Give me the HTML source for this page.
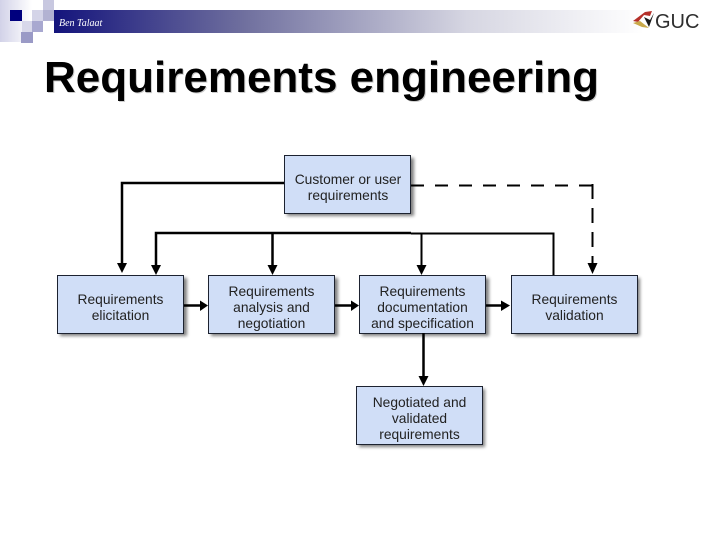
<!DOCTYPE html>
<html><head><meta charset="utf-8"><style>
html,body{margin:0;padding:0;background:#fff}
body{width:720px;height:540px;overflow:hidden;position:relative}
svg{position:absolute;left:0;top:0}
text{font-family:"Liberation Sans",sans-serif}
.l{font-size:13.8px;fill:#222;text-anchor:middle}
</style></head><body>
<svg width="720" height="540" viewBox="0 0 720 540" xmlns="http://www.w3.org/2000/svg">
<defs>
<linearGradient id="b" x1="0" x2="1" y1="0" y2="0"><stop offset="0" stop-color="#14147c"/><stop offset=".32" stop-color="#6f6f9e"/><stop offset=".7" stop-color="#d6d6e2"/><stop offset="1" stop-color="#fff"/></linearGradient>
<linearGradient id="s1" x1="0" x2="1" y1="0" y2="0"><stop offset="0" stop-color="#d2d2e8"/><stop offset="1" stop-color="#fff"/></linearGradient>
<filter id="bl" x="-10%" y="-10%" width="120%" height="130%"><feGaussianBlur stdDeviation="1.5"/></filter>
</defs>
<rect x="54" y="10" width="590" height="23" fill="url(#b)"/>
<rect x="0" y="0" width="32" height="42" fill="url(#s1)"/>
<rect x="10" y="10" width="12" height="11" fill="#00007e"/>
<rect x="43" y="0" width="11" height="10" fill="#c8c8e0"/>
<rect x="32" y="10" width="11" height="11" fill="#d4d4e8"/>
<rect x="43" y="10" width="11" height="11" fill="#b2b2d2"/>
<rect x="22" y="21" width="10" height="11" fill="#d8d8ea"/>
<rect x="32" y="21" width="11" height="11" fill="#a8a8d0"/>
<rect x="21" y="32" width="12" height="11" fill="#9a9ac6"/>
<text x="59" y="26" font-size="10" fill="#fff" style="font-family:'Liberation Serif',serif;font-style:italic">Ben Talaat</text>
<g>
<path d="M633 21L645 12L652 11L650 16L644 15L638 22Z" fill="#b5302a"/>
<path d="M633 23L640 21L649 28L642 27Z" fill="#c9a94a"/>
<path d="M644 17L649 27L654 13L650 20Z" fill="#1a1a1a"/>
<text x="655" y="28" font-size="20" fill="#2e2e2e">GUC</text>
</g>
<text x="44" y="92" font-size="44" font-weight="700" fill="#ccc" transform="translate(1,1)">Requirements engineering</text>
<text x="44" y="92" font-size="44" font-weight="700" fill="#000">Requirements engineering</text>

<g fill="#555" filter="url(#bl)" opacity=".75">
<rect x="287" y="158" width="127" height="58"/>
<rect x="60" y="278" width="127" height="58"/>
<rect x="211" y="278" width="127" height="58"/>
<rect x="362" y="278" width="127" height="58"/>
<rect x="515" y="278" width="125" height="58"/>
<rect x="359" y="389" width="126" height="58"/>
</g>
<g fill="#d0def7" stroke="#1c2230" stroke-width="1">
<rect x="284.500" y="155.500" width="126" height="58"/>
<rect x="57.500" y="275.500" width="126" height="58"/>
<rect x="208.500" y="275.500" width="126" height="58"/>
<rect x="359.500" y="275.500" width="126" height="58"/>
<rect x="511.500" y="275.500" width="126" height="58"/>
<rect x="356.500" y="386.500" width="126" height="58"/>
</g>

<g fill="none" stroke="#000" stroke-width="2.500">
<path d="M284 183H122V265"/>
<path d="M156 265V233H411"/>
<path d="M272.500 233V265"/>
<path d="M184 305.500H201"/>
<path d="M335 305.500H352"/>
<path d="M486 305.500H505"/>
<path d="M423.500 333V378"/>
</g>
<path d="M411 233.500H553.500V275" fill="none" stroke="#000" stroke-width="2"/>
<path d="M421.500 233V265" fill="none" stroke="#000" stroke-width="2"/>
<path d="M411 185.500H593" fill="none" stroke="#000" stroke-width="2" stroke-dasharray="13 11"/>
<path d="M592.500 184V264" fill="none" stroke="#000" stroke-width="2" stroke-dasharray="15 9"/>
<g fill="#000">
<path d="M117 263H127L122 273Z"/>
<path d="M151 265H161L156 275Z"/>
<path d="M267.500 265H277.500L272.500 275Z"/>
<path d="M416.500 265H426.500L421.500 275Z"/>
<path d="M587.500 263H597.500L592.500 274Z"/>
<path d="M200 300.500L208 305.500L200 311Z"/>
<path d="M351 300.500L359 305.500L351 311Z"/>
<path d="M501 300.500L510 305.500L501 311Z"/>
<path d="M418.500 376H428.500L423.500 386Z"/>
</g>

<text class="l" x="348" y="184">Customer or user</text>
<text class="l" x="348" y="200">requirements</text>
<text class="l" x="120.500" y="304">Requirements</text>
<text class="l" x="120.500" y="320">elicitation</text>
<text class="l" x="271.500" y="296">Requirements</text>
<text class="l" x="271.500" y="312">analysis and</text>
<text class="l" x="271.500" y="328">negotiation</text>
<text class="l" x="422.500" y="296">Requirements</text>
<text class="l" x="422.500" y="312">documentation</text>
<text class="l" x="422.500" y="328">and specification</text>
<text class="l" x="574.500" y="304">Requirements</text>
<text class="l" x="574.500" y="320">validation</text>
<text class="l" x="419.500" y="407">Negotiated and</text>
<text class="l" x="419.500" y="423">validated</text>
<text class="l" x="419.500" y="439">requirements</text>
</svg>
</body></html>
